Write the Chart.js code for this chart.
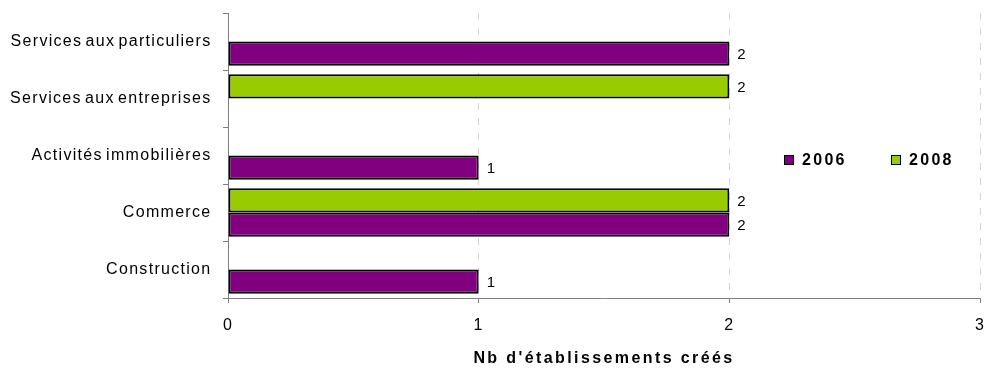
<!DOCTYPE html>
<html>
<head>
<meta charset="utf-8">
<script src="https://cdn.jsdelivr.net/npm/chart.js@4/dist/chart.umd.min.js"></script>
<style>
  body { margin: 0; background: #fff; }
  #wrap { position: relative; width: 986px; height: 368px; font-family: 'Liberation Sans', Arial, sans-serif; }
  #axisTitle { position: absolute; left: 228px; width: 752px; top: 349px; line-height: 18px;
    text-align: center; font-weight: bold; font-size: 16px; letter-spacing: 2.4px; color: #000; }
  .leg { position: absolute; top: 151px; line-height: 18px; font-weight: bold; font-size: 16px; letter-spacing: 2.3px; color: #000; }
  .leg i { position: absolute; left: 0; top: 4px; width: 8px; height: 8px; border: 1.5px solid #000; }
  .leg span { padding-left: 18px; }
</style>
</head>
<body>
<div id="wrap">
  <canvas id="chart" width="986" height="368"></canvas>
  <div class="leg" style="left:784px"><i style="background:#800080"></i><span>2006</span></div>
  <div class="leg" style="left:891px"><i style="background:#99cc00"></i><span>2008</span></div>
  <div id="axisTitle">Nb d'établissements créés</div>
</div>
<script>
// secteurs, de haut en bas
var categories = ['Services aux particuliers', 'Services aux entreprises', 'Activités immobilières', 'Commerce', 'Construction'];
var values2006 = [2, null, 1, 2, 1];
var values2008 = [null, 2, null, 2, null];
var xTicks = [0, 1, 2, 3];

var purple = '#800080';
var green = '#99cc00';

// etiquettes de valeur au bout des barres
var barLabels = {
  id: 'barLabels',
  afterDatasetsDraw: function(chart) {
    var ctx = chart.ctx;
    ctx.save();
    ctx.letterSpacing = '0px';
    ctx.font = '15px "Liberation Sans", Arial, sans-serif';
    ctx.fillStyle = '#000';
    ctx.textBaseline = 'middle';
    ctx.textAlign = 'left';
    chart.data.datasets.forEach(function(ds, i) {
      var meta = chart.getDatasetMeta(i);
      meta.data.forEach(function(bar, j) {
        var v = ds.data[j];
        if (v === null) return;
        ctx.fillText(v, bar.x + 8, bar.y + 1);
      });
    });
    ctx.restore();
  }
};

// espacement des lettres comme dans l'original
var spacing = {
  id: 'spacing',
  beforeDraw: function(chart) {
    chart.ctx.letterSpacing = '1.3px';
    chart.ctx.wordSpacing = '-2.5px';
  }
};

var ctx = document.getElementById('chart');
var myChart = new Chart(ctx, {
  type: 'bar',
  data: {
    labels: categories,
    datasets: [
      { label: '2008', data: values2008, backgroundColor: green, borderColor: '#000', borderWidth: 2, borderSkipped: false },
      { label: '2006', data: values2006, backgroundColor: purple, borderColor: '#000', borderWidth: 2, borderSkipped: false }
    ]
  },
  options: {
    indexAxis: 'y',
    responsive: false,
    animation: false,
    categoryPercentage: 0.85,
    barPercentage: 1,
    layout: { padding: { top: 13, right: 6, left: 0, bottom: 0 } },
    plugins: {
      legend: { display: false },
      tooltip: { enabled: false }
    },
    scales: {
      x: {
        min: 0,
        max: 3,
        afterBuildTicks: function(scale) {
          scale.ticks = xTicks.map(function(v) { return { value: v }; });
        },
        afterFit: function(scale) {
          scale.height = 70;
          scale.paddingLeft = 0;
          scale.paddingRight = 0;
        },
        grid: {
          color: function(c) { return c.index === 0 ? 'rgba(0,0,0,0)' : '#d4d4d4'; },
          lineWidth: 1,
          tickColor: '#808080',
          tickLength: 5,
          tickBorderDash: []
        },
        border: { color: '#808080', width: 1, dash: [7, 8] },
        ticks: {
          color: '#000',
          padding: 13,
          font: { family: '"Liberation Sans", Arial, sans-serif', size: 16 }
        }
      },
      y: {
        afterFit: function(scale) {
          scale.width = 228;
          scale.paddingTop = 0;
          scale.paddingBottom = 0;
        },
        grid: {
          drawOnChartArea: false,
          tickColor: '#808080',
          tickLength: 5,
          offset: true
        },
        border: { color: '#808080', width: 1 },
        ticks: {
          color: '#000',
          padding: 11.5,
          font: { family: '"Liberation Sans", Arial, sans-serif', size: 16 }
        }
      }
    }
  },
  plugins: [barLabels, spacing]
});
</script>
</body>
</html>
